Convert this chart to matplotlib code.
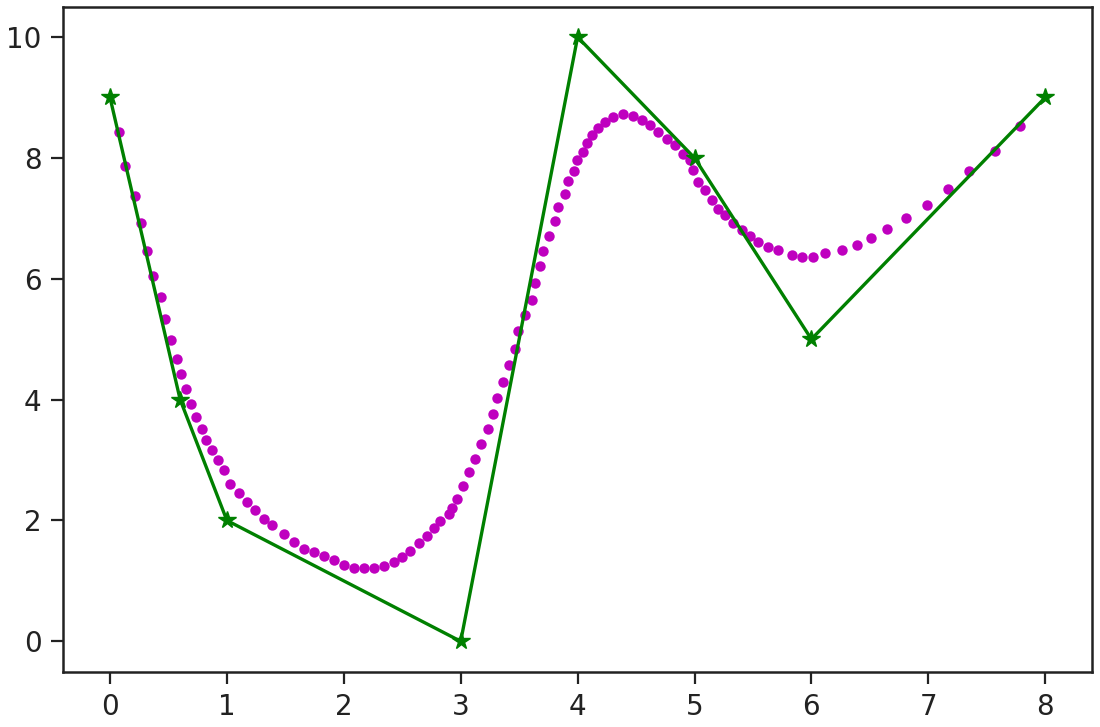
import matplotlib
matplotlib.use("Agg")
import matplotlib.pyplot as plt

# control polygon
ctrl_x = [0, 0.6, 1, 3, 4, 5, 6, 8]
ctrl_y = [9, 4, 2, 0, 10, 8, 5, 9]

# curve points
curve_x = [0.075, 0.126, 0.212, 0.267, 0.318, 0.369, 0.432, 0.474, 0.526, 0.577,
           0.605, 0.654, 0.697, 0.739, 0.788, 0.825, 0.874, 0.925, 0.973, 1.030,
           1.101, 1.173, 1.244, 1.315, 1.386, 1.485, 1.571, 1.656, 1.742, 1.827,
           1.913, 1.998, 2.084, 2.169, 2.255, 2.340, 2.426, 2.497, 2.568, 2.639,
           2.711, 2.768, 2.825, 2.896, 2.925, 2.968, 3.019, 3.067, 3.124, 3.175,
           3.232, 3.280, 3.309, 3.361, 3.409, 3.466, 3.489, 3.551, 3.609, 3.637,
           3.679, 3.708, 3.759, 3.808, 3.836, 3.893, 3.916, 3.970, 3.998, 4.044,
           4.084, 4.121, 4.178, 4.235, 4.306, 4.391, 4.477, 4.549, 4.620, 4.691,
           4.762, 4.833, 4.904, 4.962, 4.990, 5.032, 5.090, 5.147, 5.203, 5.261,
           5.332, 5.403, 5.474, 5.545, 5.631, 5.716, 5.831, 5.916, 6.015, 6.115,
           6.258, 6.386, 6.514, 6.643, 6.806, 6.990, 7.169, 7.349, 7.568, 7.782]
curve_y = [8.43, 7.86, 7.37, 6.92, 6.46, 6.05, 5.70, 5.34, 4.98, 4.68,
           4.43, 4.17, 3.92, 3.71, 3.52, 3.33, 3.17, 3.00, 2.83, 2.61,
           2.45, 2.31, 2.17, 2.03, 1.92, 1.78, 1.64, 1.53, 1.48, 1.42,
           1.34, 1.26, 1.22, 1.22, 1.22, 1.24, 1.31, 1.39, 1.50, 1.62,
           1.75, 1.87, 1.99, 2.11, 2.21, 2.35, 2.57, 2.81, 3.01, 3.27,
           3.52, 3.77, 4.03, 4.29, 4.57, 4.83, 5.14, 5.40, 5.65, 5.93,
           6.21, 6.46, 6.71, 6.95, 7.18, 7.41, 7.62, 7.79, 7.96, 8.10,
           8.24, 8.38, 8.49, 8.60, 8.68, 8.73, 8.69, 8.63, 8.54, 8.43,
           8.32, 8.21, 8.07, 7.96, 7.80, 7.60, 7.47, 7.30, 7.16, 7.05,
           6.92, 6.80, 6.70, 6.61, 6.53, 6.47, 6.39, 6.36, 6.36, 6.42,
           6.47, 6.56, 6.67, 6.82, 7.01, 7.22, 7.48, 7.79, 8.12, 8.53]

x_ticks = [0, 1, 2, 3, 4, 5, 6, 7, 8]
y_ticks = [0, 2, 4, 6, 8, 10]

fig = plt.figure(figsize=(11, 7.27), dpi=100)
ax = fig.add_axes([0.0575, 0.0763, 0.9927 - 0.0575, 0.9906 - 0.0763])

ax.plot(curve_x, curve_y, linestyle='none', marker='o', color='m',
        markersize=7.5, markeredgewidth=0)
ax.plot(ctrl_x, ctrl_y, color='g', marker='*', linewidth=2.4,
        markersize=13)

ax.set_xlim(-0.4, 8.4)
ax.set_ylim(-0.5, 10.5)
ax.set_xticks(x_ticks)
ax.set_yticks(y_ticks)
ax.tick_params(labelsize=20, length=8.5, width=1.6, pad=7, color='#222222',
               labelcolor='#222222')
for s in ax.spines.values():
    s.set_linewidth(1.8)
    s.set_color('#222222')

fig.savefig("out.png", dpi=100)
